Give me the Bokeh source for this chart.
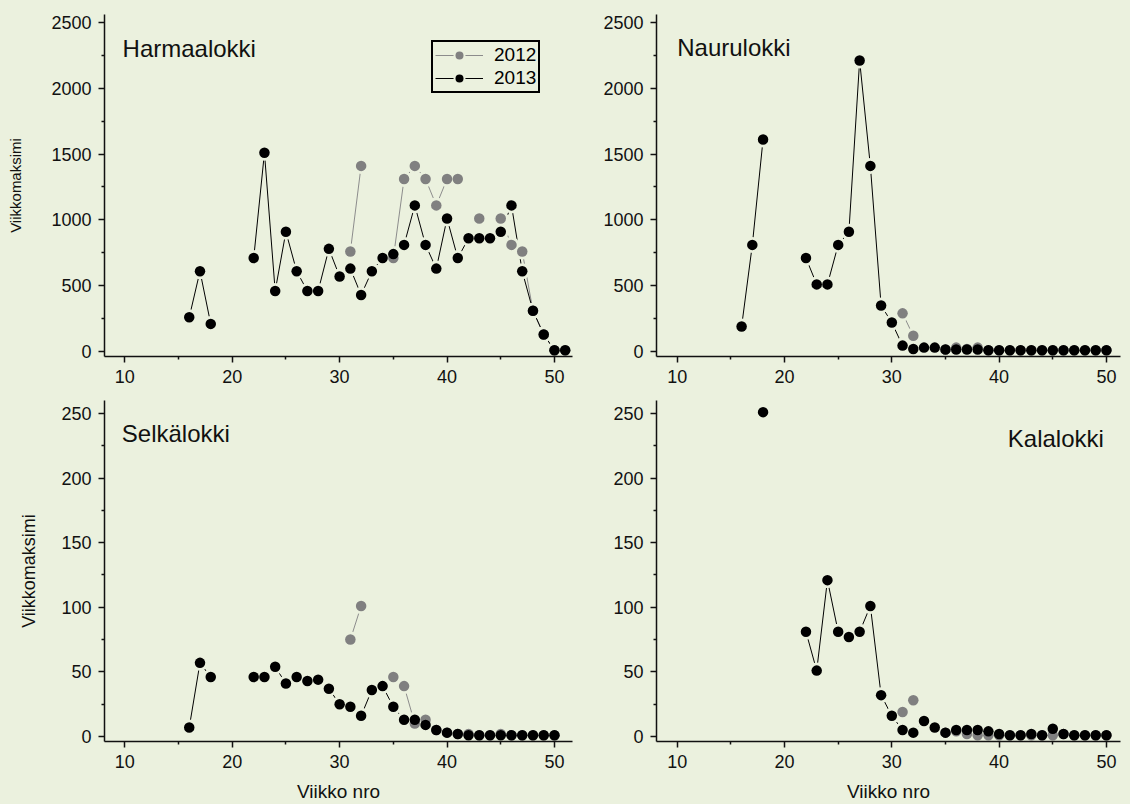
from bokeh.plotting import figure
from bokeh.layouts import column, row
from bokeh.models import FixedTicker, Label, Legend, LegendItem
from bokeh.embed import file_html
from bokeh.resources import INLINE

nan = float("nan")

# ---------------- data ----------------
WEEKS = list(range(16, 52))  # weeks 16..51

HARMAA_2013 = [260, 610, 210, nan, nan, nan, 710, 1510, 460, 910, 610, 460, 460, 780, 570,
               630, 430, 610, 710, 740, 810, 1110, 810, 630, 1010, 710, 860, 860, 860, 910,
               1110, 610, 310, 130, 10, 10]
HARMAA_2012 = [nan, nan, nan, nan, nan, nan, nan, nan, nan, nan, nan, nan, nan, nan, nan,
               760, 1410, nan, nan, 710, 1310, 1410, 1310, 1110, 1310, 1310, nan, 1010, nan, 1010,
               810, 760, 310, 130, 10, 10]

NAURU_2013 = [190, 810, 1610, nan, nan, nan, 710, 510, 510, 810, 910, 2210, 1410, 350, 220,
              45, 20, 30, 30, 15, 15, 15, 15, 10, 10, 10, 10, 10, 10, 10,
              10, 10, 10, 10, 10, nan]
NAURU_2012 = [nan, nan, nan, nan, nan, nan, nan, nan, nan, nan, nan, nan, nan, nan, nan,
              290, 120, nan, nan, 15, 30, 20, 30, 10, 10, 10, 10, 10, 10, 10,
              10, 10, 10, 10, 10, nan]

SELKA_2013 = [7, 57, 46, nan, nan, nan, 46, 46, 54, 41, 46, 43, 44, 37, 25,
              23, 16, 36, 39, 23, 13, 13, 9, 5, 3, 2, 1, 1, 1, 1,
              1, 1, 1, 1, 1, nan]
SELKA_2012 = [nan, nan, nan, nan, nan, nan, nan, nan, nan, nan, nan, nan, nan, nan, nan,
              75, 101, nan, nan, 46, 39, 10, 13, 5, 3, 2, 2, 1, 1, 2,
              1, 1, 1, 1, 1, nan]

KALA_2013 = [nan, nan, 251, nan, nan, nan, 81, 51, 121, 81, 77, 81, 101, 32, 16,
             5, 3, 12, 7, 3, 5, 5, 5, 4, 2, 1, 1, 2, 1, 6,
             2, 1, 1, 1, 1, nan]
KALA_2012 = [nan, nan, nan, nan, nan, nan, nan, nan, nan, nan, nan, nan, nan, nan, nan,
             19, 28, nan, nan, 3, 4, 2, 1, 1, 1, 1, 1, 1, 1, 1,
             2, 1, 1, 1, 1, nan]

X_TICKS = [10, 20, 30, 40, 50]
X_MINOR = [15, 25, 35, 45]
Y_TICKS_TOP = [0, 500, 1000, 1500, 2000, 2500]
Y_MINOR_TOP = [250, 750, 1250, 1750, 2250]
Y_TICKS_BOT = [0, 50, 100, 150, 200, 250]
Y_MINOR_BOT = [25, 75, 125, 175, 225]

SERIES_LABELS = ["2012", "2013"]

# ---------------- style ----------------
BG = "#EBF1DE"
C12 = "#808080"
C12_LINE = "#8c8c8c"
C13 = "#000000"
FONT = "Liberation Sans"


def make_panel(width, height, borders, x_range, y_range, yt, ym, d12, d13,
               title, tx, ty, talign, xlabel=None, ylabel=None, ylabel_size="15px",
               ylabel_standoff=28, legend=False):
    bl, br, bt, bb = borders
    p = figure(width=width, height=height, x_range=x_range, y_range=y_range,
               output_backend="svg", toolbar_location=None,
               min_border_left=bl, min_border_right=br, min_border_top=bt, min_border_bottom=bb,
               styles={"background-color": BG})
    p.background_fill_color = BG
    p.border_fill_color = BG
    p.outline_line_color = None
    p.grid.visible = False

    for ax in (p.xaxis[0], p.yaxis[0]):
        ax.axis_line_width = 1.5
        ax.axis_line_color = "#111111"
        ax.major_tick_line_width = 1.5
        ax.minor_tick_line_width = 1.5
        ax.major_tick_line_color = "#111111"
        ax.minor_tick_line_color = "#111111"
        ax.major_tick_out = 6
        ax.major_tick_in = 0
        ax.minor_tick_out = 3
        ax.minor_tick_in = 0
        ax.major_label_text_font = FONT
        ax.major_label_text_font_size = "18px"
        ax.major_label_text_color = "#111111"
        ax.axis_label_text_font = FONT
        ax.axis_label_text_font_style = "normal"
        ax.axis_label_text_color = "#111111"

    p.xaxis[0].ticker = FixedTicker(ticks=X_TICKS, minor_ticks=X_MINOR)
    p.yaxis[0].ticker = FixedTicker(ticks=yt, minor_ticks=ym)
    p.xaxis[0].major_label_standoff = 7
    p.yaxis[0].major_label_standoff = 7

    if xlabel:
        p.xaxis[0].axis_label = xlabel
        p.xaxis[0].axis_label_text_font_size = "19px"
        p.xaxis[0].axis_label_standoff = 10
    if ylabel:
        p.yaxis[0].axis_label = ylabel
        p.yaxis[0].axis_label_text_font_size = ylabel_size
        p.yaxis[0].axis_label_standoff = ylabel_standoff

    l12 = p.line(WEEKS, d12, line_color=C12_LINE, line_width=1)
    l13 = p.line(WEEKS, d13, line_color=C13, line_width=1)
    h12 = p.scatter(WEEKS, d12, size=12, fill_color=BG, line_color=BG, line_width=4)
    h13 = p.scatter(WEEKS, d13, size=12, fill_color=BG, line_color=BG, line_width=4)
    m12 = p.scatter(WEEKS, d12, size=10.5, fill_color=C12, line_color=None)
    m13 = p.scatter(WEEKS, d13, size=10.5, fill_color=C13, line_color=None)

    p.add_layout(Label(x=tx, y=ty, text=title, text_font=FONT, text_font_size="24px",
                       text_baseline="middle", text_align=talign, text_color="#111111"))

    if legend:
        lg = Legend(items=[LegendItem(label=SERIES_LABELS[0], renderers=[l12, h12, m12]),
                           LegendItem(label=SERIES_LABELS[1], renderers=[l13, h13, m13])],
                    location=(327, 263), orientation="vertical")
        lg.background_fill_alpha = 0
        lg.border_line_color = "#000000"
        lg.border_line_width = 2
        lg.border_line_alpha = 1
        lg.padding = 2
        lg.spacing = 1
        lg.glyph_height = 20
        lg.label_height = 20
        lg.glyph_width = 48
        lg.label_standoff = 11
        lg.label_text_font = FONT
        lg.label_text_font_size = "19px"
        lg.label_text_color = "#000000"
        lg.margin = 0
        p.add_layout(lg, "center")
    return p


p1 = make_panel(600, 385, (104, 28, 14, 26), (8.11, 51.68), (-37.6, 2560),
                Y_TICKS_TOP, Y_MINOR_TOP, HARMAA_2012, HARMAA_2013,
                "Harmaalokki", 9.79, 2304, "left",
                ylabel="Viikkomaksimi", ylabel_size="15px", ylabel_standoff=24, legend=True)
p2 = make_panel(530, 385, (56, 10, 14, 26), (8.07, 51.31), (-37.6, 2560),
                Y_TICKS_TOP, Y_MINOR_TOP, NAURU_2012, NAURU_2013,
                "Naurulokki", 10.0, 2313, "left")
p3 = make_panel(600, 419, (104, 28, 15, 62), (8.11, 51.68), (-3.86, 260.0),
                Y_TICKS_BOT, Y_MINOR_BOT, SELKA_2012, SELKA_2013,
                "Selkälokki", 9.72, 234.6, "left", xlabel="Viikko nro",
                ylabel="Viikkomaksimi", ylabel_size="18px", ylabel_standoff=19)
p4 = make_panel(530, 419, (56, 10, 15, 62), (8.07, 51.31), (-3.86, 260.0),
                Y_TICKS_BOT, Y_MINOR_BOT, KALA_2012, KALA_2013,
                "Kalalokki", 49.76, 230.3, "right", xlabel="Viikko nro")

layout = column(row(p1, p2, spacing=0, styles={"background-color": BG}),
                row(p3, p4, spacing=0, styles={"background-color": BG}),
                spacing=0, styles={"background-color": BG})

open("out.html", "w").write(file_html(layout, INLINE))
